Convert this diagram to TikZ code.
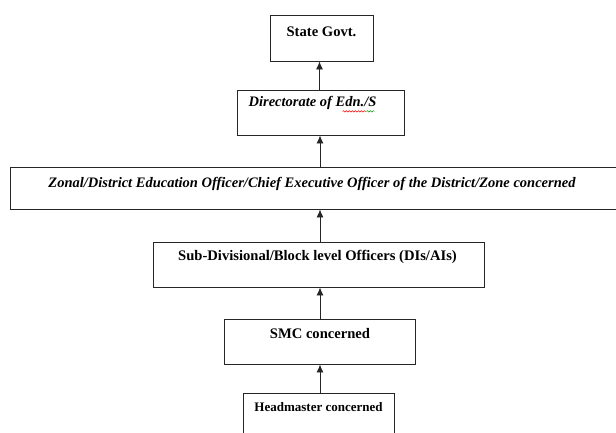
\documentclass[tikz,border=0pt]{standalone}
\usepackage{fontspec}
\setmainfont{Liberation Serif}
\usetikzlibrary{arrows.meta,decorations.pathmorphing}
\begin{document}
\begin{tikzpicture}[x=1pt,y=-1pt,
  box/.style={draw=black!85,line width=0.9pt,inner sep=0pt},
  lbl/.style={inner sep=0pt,font=\bfseries\fontsize{14.6}{16}\selectfont},
  ilbl/.style={inner sep=0pt,font=\bfseries\itshape\fontsize{14.5}{16}\selectfont},
  arr/.style={draw=black!85,line width=0.9pt,-{Latex[length=8pt,width=7pt]}}]
\useasboundingbox (0,0) rectangle (616,432);
\clip (0,0) rectangle (616,432);
\node[box,minimum width=103pt,minimum height=46pt] (b1) at (321.5,38) {};
\node[lbl] (t1) at (321.5,32) {State Govt.};
\node[box,minimum width=167pt,minimum height=45pt] (b2) at (320.5,112.5) {};
\node[ilbl] (t2) at (312.5,103) {Directorate of Edn./S};
\node[box,minimum width=612pt,minimum height=42pt] (b3) at (316,188) {};
\node[ilbl] (t3) at (312,184) {Zonal/District Education Officer/Chief Executive Officer of the District/Zone concerned};
\node[box,minimum width=331pt,minimum height=45pt] (b4) at (318.5,264.5) {};
\node[lbl] (t4) at (317.5,257) {Sub-Divisional/Block level Officers (DIs/AIs)};
\node[box,minimum width=191pt,minimum height=45pt] (b5) at (319.5,341.5) {};
\node[lbl] (t5) at (320,333) {SMC concerned};
\node[box,minimum width=151pt,minimum height=46pt] (b6) at (318.5,416) {};
\node[lbl,font=\bfseries\fontsize{13}{15}\selectfont] (t6) at (318.5,407) {Headmaster concerned};
\draw[arr] (b2.north -| 319.5,0) -- (b1.south -| 319.5,0);
\draw[arr] (b3.north -| 320,0) -- (b2.south -| 320,0);
\draw[arr] (b4.north -| 320,0) -- (b3.south -| 320,0);
\draw[arr] (b5.north -| 320,0) -- (b4.south -| 320,0);
\draw[arr] (b6.north -| 320,0) -- (b5.south -| 320,0);
\draw[red,line width=0.5pt,decorate,decoration={snake,amplitude=0.7pt,segment length=3pt}] (t2.south west) ++(94,1.5) -- ++(24,0) coordinate (sq);
\draw[green!60!black,line width=0.5pt,decorate,decoration={snake,amplitude=0.7pt,segment length=3pt}] (sq) -- ++(8,0);
\end{tikzpicture}
\end{document}
